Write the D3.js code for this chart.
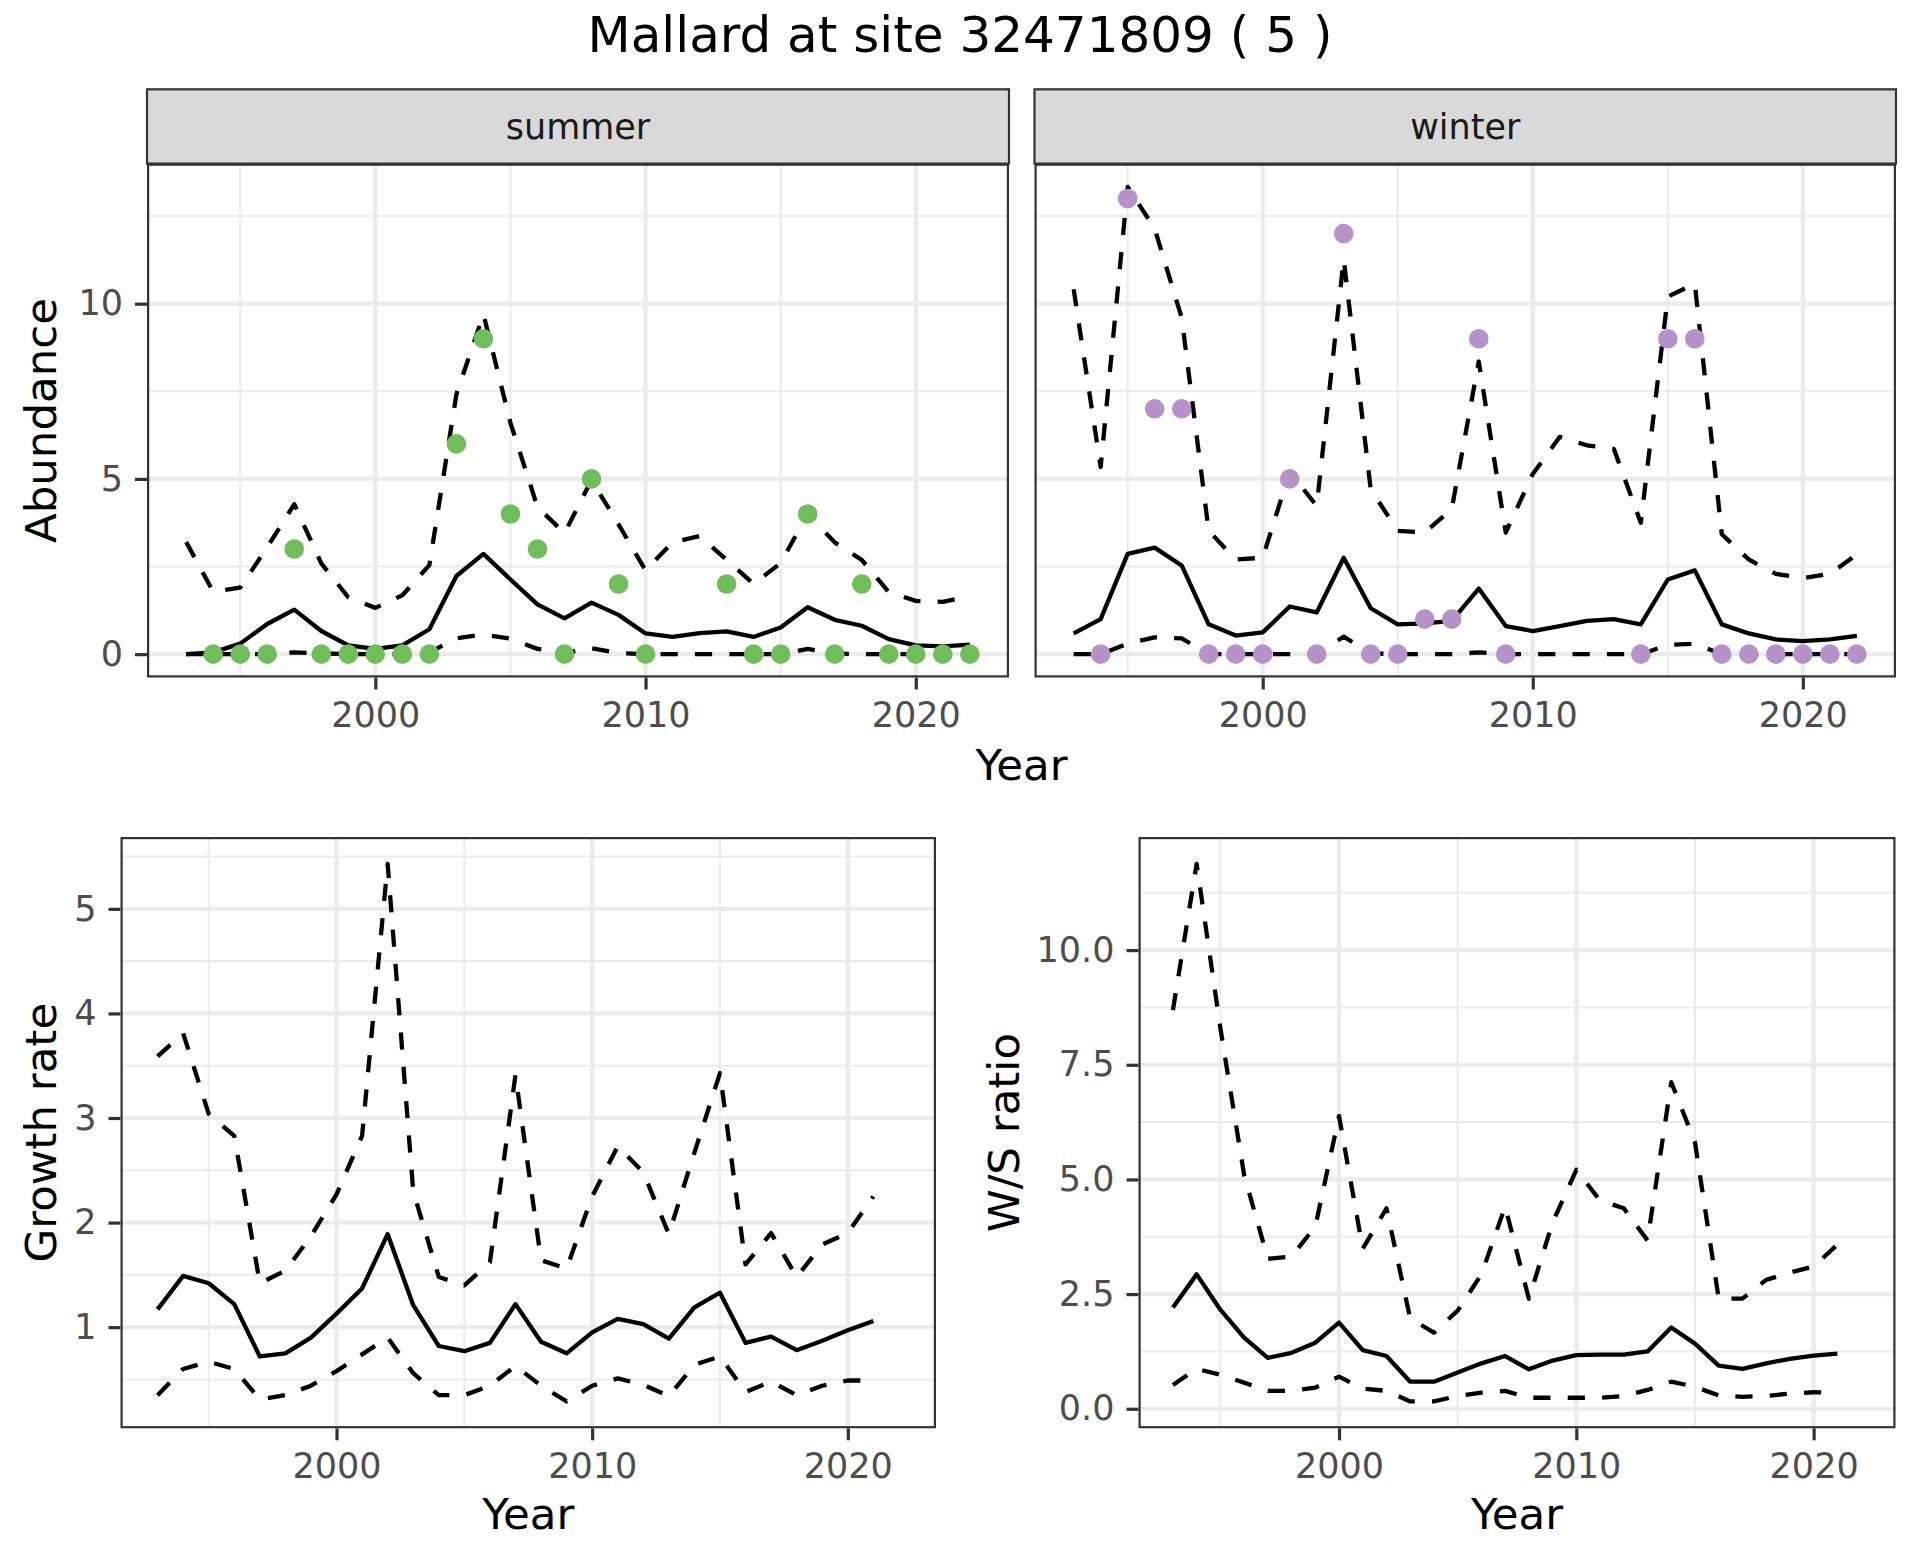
<!DOCTYPE html>
<html>
<head>
<meta charset="utf-8">
<script src="https://cdn.jsdelivr.net/npm/d3@7"></script>
<style>
  body { margin: 0; background: #fff; }
  text { font-family: "DejaVu Sans", sans-serif; }
</style>
</head>
<body>
<div id="chart"></div>
<script>
// ---- data ----
const years = [1993, 1994, 1995, 1996, 1997, 1998, 1999, 2000, 2001, 2002,
  2003, 2004, 2005, 2006, 2007, 2008, 2009, 2010, 2011, 2012,
  2013, 2014, 2015, 2016, 2017, 2018, 2019, 2020, 2021, 2022];

// abundance, summer
const summerMid = [0, 0.05, 0.3, 0.86, 1.27, 0.66, 0.25, 0.15, 0.25, 0.71, 2.23, 2.86, 2.13, 1.42, 1.02,
  1.47, 1.12, 0.59, 0.49, 0.6, 0.65, 0.49, 0.76, 1.34, 0.98, 0.81, 0.43, 0.25, 0.22, 0.27];
const summerHi = [3.2, 1.78, 1.9, 3.05, 4.28, 2.59, 1.62, 1.32, 1.68, 2.54, 7.41, 9.7, 6.6, 4.2, 3.45,
  4.97, 3.7, 2.39, 3.19, 3.37, 2.69, 2.0, 2.6, 4.0, 3.19, 2.69, 1.77, 1.52, 1.49, 1.65];
const summerLo = [0, 0, 0, 0, 0.05, 0.02, 0, 0, 0, 0.05, 0.45, 0.56, 0.44, 0.15, 0.03,
  0.17, 0.03, 0, 0, 0, 0, 0, 0, 0.15, 0.02, 0, 0, 0, 0, 0];
const summerCount = [null, 0, 0, 0, 3, 0, 0, 0, 0, 0, 6, 9, 4, 3, 0,
  5, 2, 0, null, null, 2, 0, 0, 4, 0, 2, 0, 0, 0, 0];

// abundance, winter
const winterMid = [0.59, 1.0, 2.86, 3.04, 2.53, 0.85, 0.53, 0.62, 1.36, 1.19, 2.75, 1.31, 0.85, 0.88, 0.95,
  1.87, 0.8, 0.66, 0.8, 0.95, 1.0, 0.85, 2.13, 2.39, 0.85, 0.59, 0.42, 0.37, 0.42, 0.52];
const winterHi = [10.41, 5.34, 13.33, 12.14, 9.6, 3.52, 2.7, 2.75, 5.2, 4.23, 11.27, 4.7, 3.52, 3.47, 4.14,
  8.35, 3.47, 5.14, 6.2, 5.96, 5.86, 3.75, 10.2, 10.57, 3.42, 2.7, 2.29, 2.17, 2.29, 2.84];
const winterLo = [0, 0, 0.3, 0.48, 0.45, 0, 0, 0, 0, 0, 0.5, 0.02, 0, 0, 0,
  0.05, 0, 0, 0, 0, 0, 0, 0.26, 0.3, 0, 0, 0, 0, 0, 0];
const winterCount = [null, 0, 13, 7, 7, 0, 0, 0, 5, 0, 12, 0, 0, 1, 1,
  9, 0, null, null, null, null, 0, 9, 9, 0, 0, 0, 0, 0, 0];

// growth rate and W/S ratio (1993-2021)
const growthMid = [1.17, 1.49, 1.42, 1.22, 0.72, 0.75, 0.9, 1.13, 1.37, 1.89, 1.21, 0.82, 0.77, 0.85, 1.22,
  0.86, 0.75, 0.95, 1.08, 1.03, 0.89, 1.19, 1.33, 0.85, 0.91, 0.78, 0.87, 0.97, 1.06];
const growthHi = [3.59, 3.81, 3.04, 2.83, 1.42, 1.54, 1.87, 2.27, 2.83, 5.43, 2.3, 1.48, 1.4, 1.62, 3.41,
  1.64, 1.56, 2.25, 2.73, 2.48, 1.89, 2.67, 3.43, 1.6, 1.9, 1.48, 1.79, 1.9, 2.25];
const growthLo = [0.35, 0.6, 0.67, 0.6, 0.31, 0.35, 0.44, 0.58, 0.74, 0.9, 0.56, 0.35, 0.35, 0.44, 0.63,
  0.44, 0.29, 0.44, 0.51, 0.45, 0.34, 0.64, 0.72, 0.38, 0.48, 0.35, 0.44, 0.49, 0.49];

const wsMid = [2.21, 2.93, 2.16, 1.55, 1.11, 1.22, 1.44, 1.88, 1.28, 1.15, 0.59, 0.59, 0.79, 0.99, 1.15,
  0.86, 1.05, 1.17, 1.18, 1.18, 1.25, 1.77, 1.42, 0.94, 0.87, 0.99, 1.09, 1.16, 1.2];
const wsHi = [8.69, 11.88, 8.3, 5.1, 3.27, 3.32, 3.97, 6.38, 3.49, 4.37, 1.97, 1.66, 2.14, 2.93, 4.41,
  2.4, 4.06, 5.21, 4.54, 4.37, 3.67, 7.12, 5.81, 2.4, 2.4, 2.81, 2.97, 3.1, 3.58];
const wsLo = [0.52, 0.87, 0.74, 0.57, 0.39, 0.39, 0.46, 0.7, 0.44, 0.39, 0.16, 0.16, 0.28, 0.35, 0.39,
  0.24, 0.24, 0.24, 0.24, 0.28, 0.41, 0.59, 0.48, 0.29, 0.26, 0.28, 0.33, 0.36, 0.35];

const xTicks = [2000, 2010, 2020];
const xMinor = [1995, 2005, 2015];
const abundTicks = [0, 5, 10];
const abundMinor = [2.5, 7.5, 12.5];
const growthTicks = [1, 2, 3, 4, 5];
const growthMinor = [0.5, 1.5, 2.5, 3.5, 4.5, 5.5];
const wsTicks = [0, 2.5, 5, 7.5, 10];
const wsMinor = [1.25, 3.75, 6.25, 8.75, 11.25];

// ---- styling ----
const W = 1920, H = 1560;
const tickFont = 35, titleFont = 43.5;
const lineW = 4.3, dash = "17.2,17.2";
const greenPt = "#70BE5A", purplePt = "#B592C8";

const svg = d3.select("#chart").append("svg")
  .attr("width", W).attr("height", H);

svg.append("rect").attr("width", W).attr("height", H).attr("fill", "#fff");

svg.append("text")
  .attr("x", 960).attr("y", 52)
  .attr("text-anchor", "middle")
  .style("font-size", "50px")
  .text("Mallard at site 32471809 ( 5 )");

// expand a [min,max] domain by 5% each side, like ggplot
const expand = (lo, hi) => { const d = (hi - lo) * 0.05; return [lo - d, hi + d]; };

const xDomain = expand(d3.min(years), d3.max(years));

const styleAxis = (ax) => {
  ax.select(".domain").remove();
  ax.selectAll(".tick line").attr("stroke", "#333333").attr("stroke-width", 3.2);
  ax.selectAll(".tick text")
    .attr("fill", "#4D4D4D")
    .style("font-size", tickFont + "px")
    .style("font-family", "DejaVu Sans");
};

const drawPanel = (box, yDomain, yTicks, yMinor, opts) => {
  const x = d3.scaleLinear().domain(xDomain).range([box.x0, box.x1]);
  const y = d3.scaleLinear().domain(yDomain).range([box.y1, box.y0]);
  const g = svg.append("g");

  g.append("rect")
    .attr("x", box.x0).attr("y", box.y0)
    .attr("width", box.x1 - box.x0).attr("height", box.y1 - box.y0)
    .attr("fill", "#fff");

  const clipId = "clip" + Math.round(box.x0) + Math.round(box.y0);
  svg.append("clipPath").attr("id", clipId)
    .append("rect")
    .attr("x", box.x0).attr("y", box.y0)
    .attr("width", box.x1 - box.x0).attr("height", box.y1 - box.y0);

  const inner = g.append("g").attr("clip-path", `url(#${clipId})`);

  // grid
  inner.selectAll(".ymin").data(yMinor).enter().append("line")
    .attr("x1", box.x0).attr("x2", box.x1)
    .attr("y1", d => y(d)).attr("y2", d => y(d))
    .attr("stroke", "#EBEBEB").attr("stroke-width", 2.1);
  inner.selectAll(".xmin").data(xMinor).enter().append("line")
    .attr("y1", box.y0).attr("y2", box.y1)
    .attr("x1", d => x(d)).attr("x2", d => x(d))
    .attr("stroke", "#EBEBEB").attr("stroke-width", 2.1);
  inner.selectAll(".ymaj").data(yTicks).enter().append("line")
    .attr("x1", box.x0).attr("x2", box.x1)
    .attr("y1", d => y(d)).attr("y2", d => y(d))
    .attr("stroke", "#EBEBEB").attr("stroke-width", 4.2);
  inner.selectAll(".xmaj").data(xTicks).enter().append("line")
    .attr("y1", box.y0).attr("y2", box.y1)
    .attr("x1", d => x(d)).attr("x2", d => x(d))
    .attr("stroke", "#EBEBEB").attr("stroke-width", 4.2);

  // lines
  const line = d3.line().x((d, i) => x(years[i])).y(d => y(d));
  [["hi", dash], ["lo", dash], ["mid", null]].forEach(([k, da]) => {
    inner.append("path")
      .datum(opts[k])
      .attr("d", line)
      .attr("fill", "none")
      .attr("stroke", "#000")
      .attr("stroke-width", lineW)
      .attr("stroke-linejoin", "round")
      .attr("stroke-dasharray", da);
  });

  if (opts.counts) {
    const pts = opts.counts.map((c, i) => ({ year: years[i], c })).filter(d => d.c !== null);
    inner.selectAll(".pt").data(pts).enter().append("circle")
      .attr("cx", d => x(d.year)).attr("cy", d => y(d.c))
      .attr("r", 9.8).attr("fill", opts.color);
  }

  // panel border (clipped, like ggplot)
  inner.append("rect")
    .attr("x", box.x0).attr("y", box.y0)
    .attr("width", box.x1 - box.x0).attr("height", box.y1 - box.y0)
    .attr("fill", "none").attr("stroke", "#333333").attr("stroke-width", 4.4);

  // axes
  const xAxis = g.append("g")
    .attr("transform", `translate(0,${box.y1})`)
    .call(d3.axisBottom(x).tickValues(xTicks).tickFormat(d3.format("d"))
      .tickSize(12).tickPadding(12.5));
  styleAxis(xAxis);

  if (opts.yLabels) {
    const yAxis = g.append("g")
      .attr("transform", `translate(${box.x0},0)`)
      .call(d3.axisLeft(y).tickValues(yTicks).tickFormat(opts.yFormat)
        .tickSize(12).tickPadding(12));
    styleAxis(yAxis);
  }

  if (opts.strip) {
    g.append("rect")
      .attr("x", box.x0).attr("y", 89.3)
      .attr("width", box.x1 - box.x0).attr("height", box.y0 - 89.3)
      .attr("fill", "#D9D9D9").attr("stroke", "#333333").attr("stroke-width", 2.2);
    g.append("text")
      .attr("x", (box.x0 + box.x1) / 2).attr("y", 139)
      .attr("text-anchor", "middle")
      .attr("fill", "#1A1A1A")
      .style("font-size", "35px")
      .text(opts.strip);
  }

  if (opts.xTitle) {
    g.append("text")
      .attr("x", (box.x0 + box.x1) / 2).attr("y", box.y1 + 100.5)
      .attr("text-anchor", "middle")
      .style("font-size", titleFont + "px")
      .text("Year");
  }
  if (opts.yTitle) {
    g.append("text")
      .attr("transform", `translate(${opts.yTitleX},${(box.y0 + box.y1) / 2}) rotate(-90)`)
      .attr("text-anchor", "middle")
      .style("font-size", titleFont + "px")
      .text(opts.yTitle);
  }
};

// shared y for the two facets
const abundDomain = expand(
  d3.min([...summerLo, ...winterLo]),
  d3.max([...summerHi, ...winterHi, ...summerCount, ...winterCount]));

const topY0 = 163.6, topY1 = 677.5;
drawPanel({ x0: 147, x1: 1009, y0: topY0, y1: topY1 }, abundDomain, abundTicks, abundMinor,
  { mid: summerMid, hi: summerHi, lo: summerLo, counts: summerCount, color: greenPt,
    yLabels: true, yFormat: d3.format("d"), strip: "summer", yTitle: "Abundance", yTitleX: 56 });
drawPanel({ x0: 1034.5, x1: 1896, y0: topY0, y1: topY1 }, abundDomain, abundTicks, abundMinor,
  { mid: winterMid, hi: winterHi, lo: winterLo, counts: winterCount, color: purplePt,
    yLabels: false, strip: "winter" });

// shared x title for the facet row
svg.append("text")
  .attr("x", (147 + 1896) / 2).attr("y", topY1 + 102)
  .attr("text-anchor", "middle")
  .style("font-size", titleFont + "px")
  .text("Year");

const botY0 = 837, botY1 = 1428.3;
drawPanel({ x0: 120.5, x1: 936, y0: botY0, y1: botY1 },
  expand(d3.min(growthLo), d3.max(growthHi)), growthTicks, growthMinor,
  { mid: growthMid, hi: growthHi, lo: growthLo, yLabels: true, yFormat: d3.format("d"),
    xTitle: true, yTitle: "Growth rate", yTitleX: 56 });
drawPanel({ x0: 1138.5, x1: 1895.5, y0: botY0, y1: botY1 },
  expand(d3.min(wsLo), d3.max(wsHi)), wsTicks, wsMinor,
  { mid: wsMid, hi: wsHi, lo: wsLo, yLabels: true, yFormat: d3.format(".1f"),
    xTitle: true, yTitle: "W/S ratio", yTitleX: 1019 });
</script>
</body>
</html>
